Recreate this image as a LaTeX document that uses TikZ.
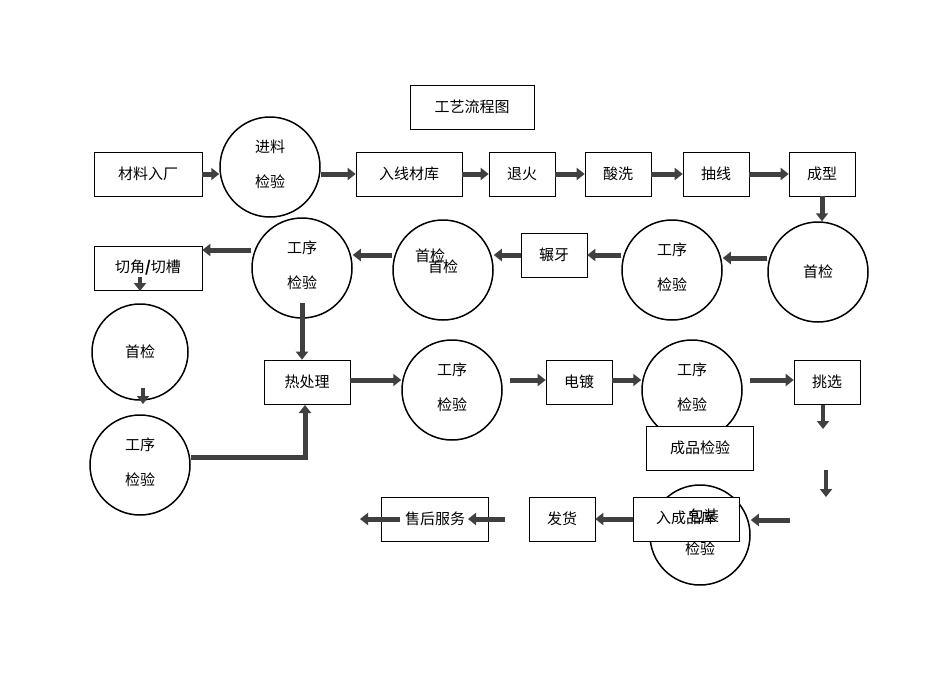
\documentclass[tikz,border=0pt]{standalone}
\usepackage{fontspec}
\newfontfamily\cjk{Noto Sans CJK SC}
\usetikzlibrary{arrows.meta}
\begin{document}
\begin{tikzpicture}[x=1pt,y=-1pt,
  box/.style={draw,fill=white,line width=0.6pt,minimum width=#1,minimum height=44pt,inner sep=0pt,font=\cjk\fontsize{15}{17}\selectfont},
  box/.default=66pt,
  circ/.style={draw,circle,line width=1.5pt,minimum size=100pt,inner sep=0pt},
  lbl/.style={font=\cjk\fontsize{15}{17}\selectfont,inner sep=0pt},
  ar/.style={line width=5pt,draw=black!75,-{Triangle[length=8pt,width=12pt]}}]
\useasboundingbox (0,0) rectangle (950,672);
% circles
\node[circ] (c1) at (270,167) {};
\node[circ] (c2) at (818,272) {};
\node[circ] (c3) at (672,270) {};
\node[circ] (c4) at (443,270) {};
\node[circ] (c5) at (302,268) {};
\node[circ,minimum size=96pt] (c6) at (140,352) {};
\node[circ] (c7) at (140,465) {};
\node[circ] (c8) at (452,390) {};
\node[circ] (c9) at (692,390) {};
\node[circ] (c10) at (700,535) {};
% boxes
\node[box=124pt] (t) at (472,107) {工艺流程图};
\node[box=108pt] (b1) at (148,174) {材料入厂};
\node[box=106pt] (b2) at (409,174) {入线材库};
\node[box] (b3) at (522,174) {退火};
\node[box] (b4) at (618,174) {酸洗};
\node[box] (b5) at (716,174) {抽线};
\node[box] (b6) at (822,174) {成型};
\node[box] (b7) at (554,255) {辗牙};
\node[box=108pt] (b8) at (148,268) {};
\node[box=86pt] (b9) at (307,382) {热处理};
\node[box] (b10) at (579,382) {电镀};
\node[box] (b11) at (827,382) {挑选};
\node[box=107pt] (b12) at (700,448) {成品检验};
\node[box=106pt] (b13) at (686,519) {};
\node[box] (b14) at (562,519) {发货};
\node[box=107pt] (b15) at (435,519) {售后服务};
% circle texts
\foreach \c/\a/\b in {c1/进料/检验,c3/工序/检验,c5/工序/检验,c7/工序/检验,c8/工序/检验,c9/工序/检验}{
  \node[lbl] at ([yshift=20pt]\c) {\a};
  \node[lbl] at ([yshift=-15pt]\c) {\b};}
\node[lbl] at (c2) {首检};
\node[lbl] at (c6) {首检};
\node[lbl] at (430,256) {首检};
\node[lbl] at (443,267) {首检};
\node[lbl] at (700,549) {检验};
\node[lbl] at (704,516) {包装};
\node[lbl] at (686,518) {入成品库};
\node[lbl] at (148,268) {切角\textbf{/}切槽};
% arrows
\coordinate (p1) at (202,174);
\draw[ar] (b1.east) -- (b1.east -| c1.west);
\draw[ar] (c1.east|-b2.west) -- (b2.west);
\draw[ar] (b2) -- (b3);
\draw[ar] (b3) -- (b4);
\draw[ar] (b4) -- (b5);
\draw[ar] (b5) -- (b6);
\draw[ar] (b6.south) -- (b6.south|-c2.north);
\draw[ar] (c2.west|-0,258) -- (c3.east|-0,258);
\draw[ar] (c3.west|-b7.east) -- (b7.east);
\draw[ar] (b7.west) -- (b7.west-|c4.east);
\draw[ar] (c4.west|-0,255) -- (c5.east|-0,255);
\draw[ar] (c5.west|-0,250) -- (b8.east|-0,250);
\draw[ar,line width=4pt] (140,277) -- (140,291);
\draw[ar,line width=4pt] (143,388) -- (143,404);
\draw[ar] (c5.south|-0,303) -- (b9.north-|c5.south);
\draw[ar] (c7.east|-0,457) -- (305,457) -- (305,405);
\draw[ar] (b9.east|-0,380) -- (c8.west|-0,380);
\draw[ar] (510,380) -- (b10.west|-0,380);
\draw[ar] (b10.east|-0,380) -- (c9.west|-0,380);
\draw[ar] (750,380) -- (b11.west|-0,380);
\draw[ar,line width=4pt] (823,405) -- (823,429);
\draw[ar,line width=4pt] (826,470) -- (826,497);
\draw[ar] (790,520) -- (c10.east|-0,520);
\draw[ar] (b13.west) -- (b14.east);
\draw[ar] (505,519) -- (468,519);
\draw[ar] (400,519) -- (360,519);
\end{tikzpicture}
\end{document}
